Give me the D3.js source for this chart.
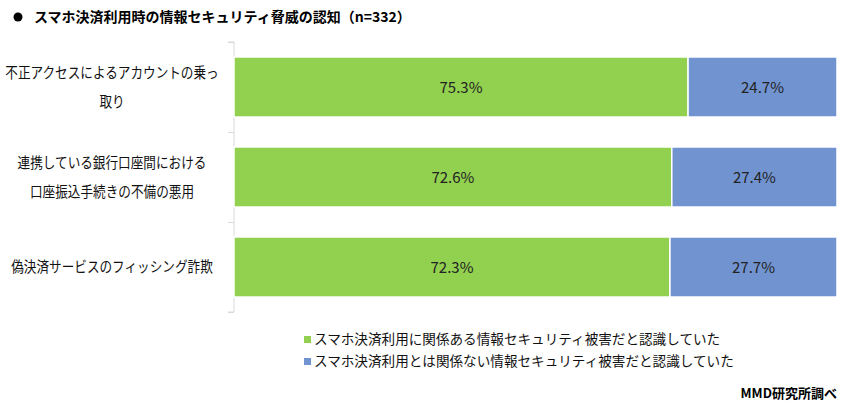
<!DOCTYPE html>
<html><head><meta charset="utf-8">
<script src="https://cdn.jsdelivr.net/npm/d3@7"></script>
<style>body{margin:0;background:#fff;}svg{font-family:"Noto Sans CJK JP","Noto Sans",sans-serif;}</style>
</head><body><svg id="c" width="855" height="410"></svg>
<script>
const categories = [
  ["不正アクセスによるアカウントの乗っ", "取り"],
  ["連携している銀行口座間における", "口座振込手続きの不備の悪用"],
  ["偽決済サービスのフィッシング詐欺"]
];
const seriesNames = [
  "スマホ決済利用に関係ある情報セキュリティ被害だと認識していた",
  "スマホ決済利用とは関係ない情報セキュリティ被害だと認識していた"
];
const related = [75.3, 72.6, 72.3];
const unrelated = [24.7, 27.4, 27.7];
const colors = ["#92D050", "#7194D0"];

(function(){
const svg = d3.select("#c");
const pL = 234, pR = 837, pT = 42, pB = 312;
const x = d3.scaleLinear().domain([0, 100]).range([pL, pR]);
const y = d3.scaleBand().domain(d3.range(categories.length)).range([pT, pB]).paddingInner(0.333).paddingOuter(0.1665);

// title
svg.append("circle").attr("cx", 18).attr("cy", 17).attr("r", 4.5).attr("fill", "#000");
svg.append("text").attr("x", 34).attr("y", 22).attr("font-size", 14).attr("font-weight", "bold")
  .text("スマホ決済利用時の情報セキュリティ脅威の認知（n=332）");

// axis
const yAxis = d3.axisLeft(d3.scaleLinear().domain([0, 3]).range([pT, pB])).ticks(3).tickSize(6).tickFormat("");
const ax = svg.append("g").attr("transform", `translate(${pL},0)`).call(yAxis);
ax.selectAll("path,line").attr("stroke", "#d9d9d9");
ax.select(".domain").attr("d", `M-6,${pT}H0V${pB}H-6`);

const stacked = categories.map((c, i) => [[0, related[i]], [related[i], related[i] + unrelated[i]]]);
stacked.forEach((segs, i) => {
  segs.forEach((s, j) => {
    svg.append("rect").attr("x", x(s[0])).attr("y", y(i)).attr("width", x(s[1]) - x(s[0])).attr("height", y.bandwidth())
      .attr("fill", colors[j]).attr("stroke", "#fff").attr("stroke-width", 1.5);
    svg.append("text").attr("x", (x(s[0]) + x(s[1])) / 2).attr("y", y(i) + y.bandwidth() / 2 + 6)
      .attr("text-anchor", "middle").attr("font-size", 15).attr("fill", "#222")
      .text((j === 0 ? related[i] : unrelated[i]).toFixed(1) + "%");
  });
  const lines = categories[i];
  const cy = y(i) + y.bandwidth() / 2;
  lines.forEach((l, k) => {
    const t = svg.append("text").attr("x", 112).attr("y", cy + 5 + (k - (lines.length - 1) / 2) * 29)
      .attr("text-anchor", "middle").attr("font-size", 14.5).attr("fill", "#111").text(l);
    const w = t.node().getComputedTextLength();
    t.attr("textLength", w * 0.87).attr("lengthAdjust", "spacingAndGlyphs");
  });
});

// legend
seriesNames.forEach((n, i) => {
  const ly = 336 + i * 22;
  svg.append("rect").attr("x", 304).attr("y", ly).attr("width", 7).attr("height", 7).attr("fill", colors[i]);
  svg.append("text").attr("x", 314).attr("y", ly + 8).attr("font-size", 13.6).attr("fill", "#111").text(n);
});

svg.append("text").attr("x", 837).attr("y", 398).attr("text-anchor", "end").attr("font-size", 13).attr("font-weight", "bold")
  .text("MMD研究所調べ");
})();
</script></body></html>
